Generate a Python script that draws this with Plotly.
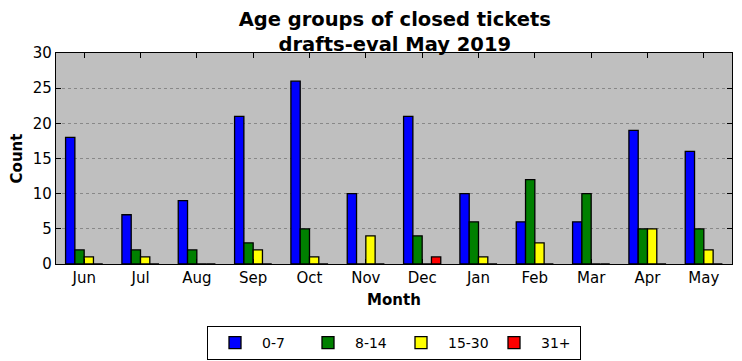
import plotly.graph_objects as go

months = ["Jun", "Jul", "Aug", "Sep", "Oct", "Nov", "Dec", "Jan", "Feb", "Mar", "Apr", "May"]
age_0_7 = [18, 7, 9, 21, 26, 10, 21, 10, 6, 6, 19, 16]
age_8_14 = [2, 2, 2, 3, 5, 0, 4, 6, 12, 10, 5, 5]
age_15_30 = [1, 1, 0, 2, 1, 4, 0, 1, 3, 0, 5, 2]
age_31_plus = [0, 0, 0, 0, 0, 0, 1, 0, 0, 0, 0, 0]

series = [
    ("0-7", age_0_7, "#0000ff"),
    ("8-14", age_8_14, "#008000"),
    ("15-30", age_15_30, "#ffff00"),
    ("31+", age_31_plus, "#ff0000"),
]

fig = go.Figure()
for name, vals, color in series:
    fig.add_trace(go.Bar(
        x=months, y=vals, name=name,
        marker=dict(color=color, line=dict(color="black", width=1.3)),
    ))

font_family = "DejaVu Sans"
fig.update_layout(
    width=734, height=353,
    margin=dict(l=48, r=10, t=45, b=97, autoexpand=False),
    paper_bgcolor="white",
    plot_bgcolor="#bfbfbf",
    barmode="group",
    bargap=0.34,
    bargroupgap=0,
    font=dict(family=font_family, color="black"),
    title=dict(
        text="<b>Age groups of closed tickets<br>drafts-eval May 2019</b>",
        x=0.527, xanchor="center", y=0.95, yanchor="middle", yref="container",
        font=dict(size=19.5, family=font_family),
    ),
    legend=dict(
        orientation="h", x=0.5, xanchor="center", y=-0.294, yanchor="top",
        bordercolor="black", borderwidth=1, font=dict(size=14),
        traceorder="normal", itemwidth=44,
        entrywidth=34, entrywidthmode="pixels",
    ),
    showlegend=True,
)
fig.update_xaxes(
    automargin=False,
    showline=True, linecolor="black", linewidth=1.2, mirror="ticks",
    ticks="inside", ticklen=5, tickcolor="black",
    tickfont=dict(size=15),
    title=dict(text="<b>Month</b>", font=dict(size=15), standoff=8),
    showgrid=False,
)
fig.update_yaxes(
    automargin=False,
    range=[0, 30], dtick=5,
    showline=True, linecolor="black", linewidth=1.2, mirror="ticks",
    ticks="inside", ticklen=5, tickcolor="black",
    tickfont=dict(size=15),
    title=dict(text="<b>Count</b>", font=dict(size=15), standoff=6),
    showgrid=True, gridcolor="#888888", griddash="dot", gridwidth=1,
    zeroline=False,
)

fig.write_html("out.html")
